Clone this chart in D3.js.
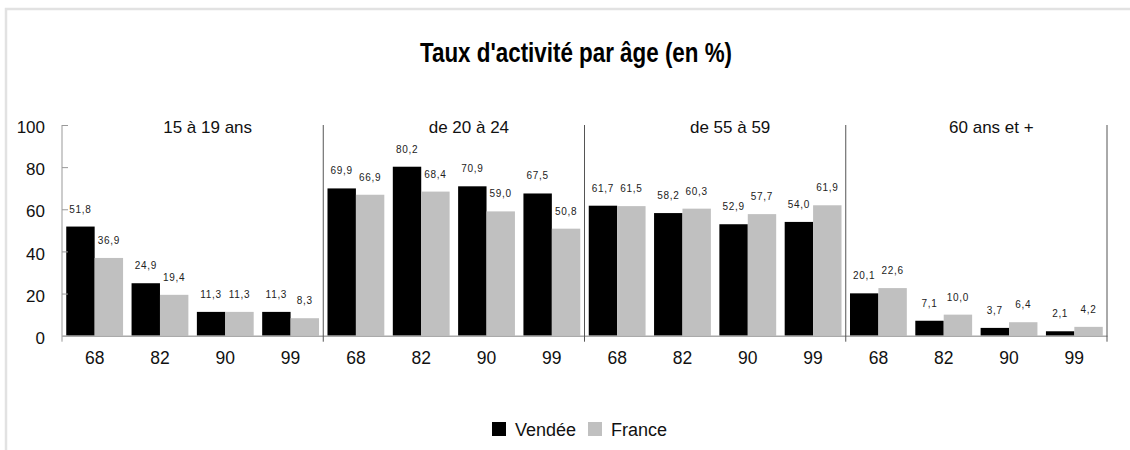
<!DOCTYPE html>
<html>
<head>
<meta charset="utf-8">
<script src="https://cdn.jsdelivr.net/npm/d3@7"></script>
<style>
  body { margin: 0; background: #fff; }
  svg { display: block; font-family: "Liberation Sans", Arial, sans-serif; }
</style>
</head>
<body>
<div id="chart"></div>
<script>
const title = "Taux d'activité par âge (en %)"
const groups = ["15 à 19 ans", "de 20 à 24", "de 55 à 59", "60 ans et +"]
const years = ["68", "82", "90", "99"]
const seriesNames = ["Vendée", "France"]
const vendee = [51.8, 24.9, 11.3, 11.3, 69.9, 80.2, 70.9, 67.5, 61.7, 58.2, 52.9, 54.0, 20.1, 7.1, 3.7, 2.1]
const france = [36.9, 19.4, 11.3, 8.3, 66.9, 68.4, 59.0, 50.8, 61.5, 60.3, 57.7, 61.9, 22.6, 10.0, 6.4, 4.2]
const yTicks = [0, 20, 40, 60, 80, 100]
const colors = ["#000000", "#c0c0c0"]

const width = 1130
const height = 450

// one row per (group, year)
const rows = []
groups.forEach((g, gi) => {
    years.forEach((yr, yi) => {
        const i = gi * years.length + yi
        rows.push({ key: i, group: g, year: yr, values: [vendee[i], france[i]] })
    })
})

const svg = d3.select("#chart")
    .append("svg")
    .attr("width", width)
    .attr("height", height)

// light frame, open to the right and bottom
svg.append("rect")
    .attr("x", 6).attr("y", 9)
    .attr("width", 1300).attr("height", 600)
    .attr("fill", "none")
    .attr("stroke", "#e2e2e2")
    .attr("stroke-width", 2.5)

svg.append("text")
    .attr("x", 576).attr("y", 62)
    .attr("text-anchor", "middle")
    .attr("font-family", "'Liberation Sans Narrow', 'Liberation Sans', Arial, sans-serif")
    .attr("font-weight", "bold")
    .attr("font-size", 27)
    .attr("textLength", 312)
    .attr("lengthAdjust", "spacingAndGlyphs")
    .text(title)

const plotLeft = 62, plotRight = 1107, plotTop = 125, plotBottom = 335.7

const x0 = d3.scaleBand().domain(rows.map(d => d.key)).range([plotLeft, plotRight])
const gap = x0.bandwidth() * 0.13
const x1 = d3.scaleBand().domain([0, 1]).range([gap / 2, x0.bandwidth() - gap / 2])
const y = d3.scaleLinear().domain([0, 100]).range([plotBottom, plotTop])

// bars
const cat = svg.append("g").selectAll("g")
    .data(rows)
    .enter().append("g")
    .attr("transform", d => "translate(" + x0(d.key) + ",0)")

cat.selectAll("rect")
    .data(d => d.values)
    .enter().append("rect")
    .attr("x", (d, i) => x1(i))
    .attr("width", x1.bandwidth())
    .attr("y", d => y(d))
    .attr("height", d => y(0) - y(d))
    .attr("fill", (d, i) => colors[i])

const fmt = v => d3.format(".1f")(v).replace(".", ",")
cat.selectAll("text")
    .data(d => d.values)
    .enter().append("text")
    .attr("x", (d, i) => x1(i) + x1.bandwidth() / 2)
    .attr("y", d => y(d) - 14)
    .attr("text-anchor", "middle")
    .attr("font-size", 10)
    .attr("letter-spacing", 0.7)
    .attr("fill", "#222")
    .text(d => fmt(d))

// y axis
const yAxis = svg.append("g")
    .attr("transform", "translate(" + plotLeft + ",0)")
    .call(d3.axisLeft(y).tickValues(yTicks).tickSize(-6).tickPadding(17))
yAxis.select(".domain").remove()
yAxis.selectAll("line").attr("stroke", "#999")
yAxis.selectAll("text")
    .attr("font-family", "'Liberation Sans', Arial, sans-serif")
    .attr("font-size", 17)
    .attr("fill", "#111")
    .attr("dy", "0.45em")
svg.append("line")
    .attr("x1", plotLeft).attr("x2", plotLeft)
    .attr("y1", plotTop).attr("y2", plotBottom + 6)
    .attr("stroke", "#999")

// x axis
const xAxis = svg.append("g")
    .attr("transform", "translate(0," + plotBottom + ")")
    .call(d3.axisBottom(x0).tickSize(0).tickPadding(16).tickFormat(k => rows[k].year))
xAxis.select(".domain").attr("stroke", "#aaa").attr("stroke-width", 1.5)
xAxis.selectAll("text")
    .attr("font-family", "'Liberation Sans', Arial, sans-serif")
    .attr("font-size", 17.5)
    .attr("fill", "#111")

// panel dividers and labels
const panelW = (plotRight - plotLeft) / groups.length
groups.forEach((g, gi) => {
    const px = plotLeft + panelW * gi
    if (gi > 0) {
        svg.append("line")
            .attr("x1", px).attr("x2", px)
            .attr("y1", plotTop).attr("y2", plotBottom + 6)
            .attr("stroke", "#555")
    }
    svg.append("text")
        .attr("x", px + panelW / 2 + 15)
        .attr("y", 133)
        .attr("text-anchor", "middle")
        .attr("font-size", 17)
        .attr("fill", "#111")
        .text(g)
})
svg.append("line")
    .attr("x1", plotRight).attr("x2", plotRight)
    .attr("y1", plotTop).attr("y2", plotBottom + 6)
    .attr("stroke", "#555")

// legend
const legend = svg.append("g")
const legendX = [492, 588]
seriesNames.forEach((name, i) => {
    legend.append("rect")
        .attr("x", legendX[i]).attr("y", 422)
        .attr("width", 14).attr("height", 14)
        .attr("fill", colors[i])
    legend.append("text")
        .attr("x", legendX[i] + 23).attr("y", 436)
        .attr("font-size", 18)
        .attr("fill", "#111")
        .text(name)
})
</script>
</body>
</html>
